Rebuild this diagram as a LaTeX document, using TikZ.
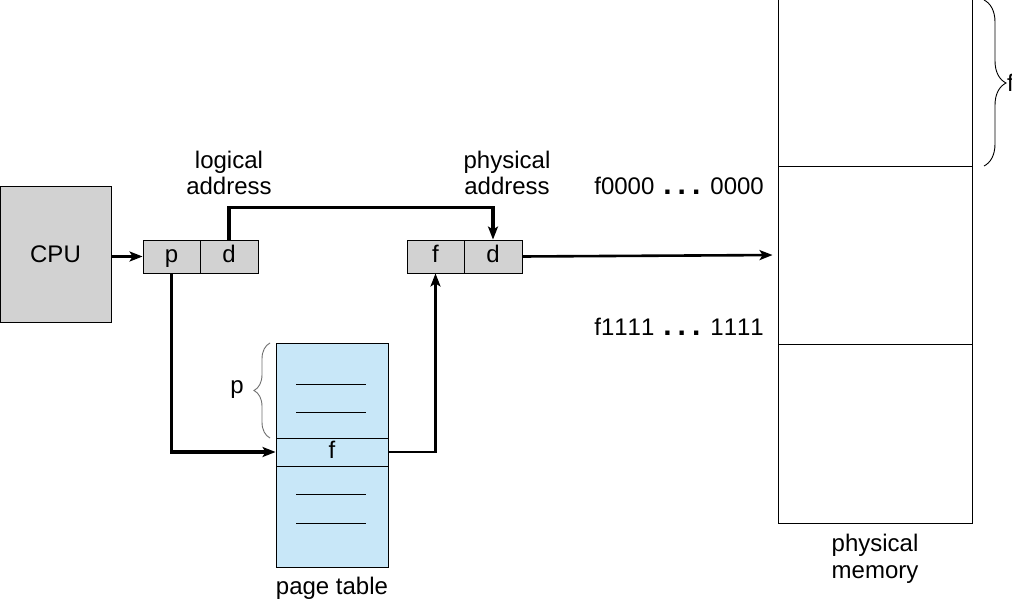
\documentclass[tikz,border=0pt]{standalone}
\usepackage{fontspec}
\setmainfont{Liberation Sans}
\usetikzlibrary{arrows.meta,decorations.pathreplacing}
\definecolor{boxgray}{HTML}{D2D2D2}
\definecolor{ptblue}{HTML}{C8E7F8}
\definecolor{bracegray}{HTML}{707070}
\newcommand{\bigdots}{\hspace{9pt}{\bfseries\fontsize{30}{30}\selectfont .\hspace{6pt}.\hspace{6pt}.}\hspace{10pt}}
\begin{document}
\begin{tikzpicture}[x=1pt,y=-1pt,
  font=\fontsize{24}{26.5}\selectfont,
  box/.style={draw=black, line width=0.9pt, inner sep=0pt, anchor=center},
  graybox/.style={box, fill=boxgray, text height=17pt, text depth=5pt},
  heavy/.style={line width=3.6pt, -{Stealth[length=13pt,width=10pt,inset=3pt]}},
  medium/.style={line width=2.6pt, -{Stealth[length=13pt,width=10pt,inset=3pt]}},
  lbl/.style={align=center, inner sep=0pt},
  bracestyle/.style={decorate, decoration={brace, amplitude=#1}, line width=0.9pt}]
\useasboundingbox (0,0) rectangle (1012,599);
\fill[white] (0,0) rectangle (1012,599);

% CPU
\node[box, fill=boxgray, minimum width=111pt, minimum height=136pt] (cpu) at (55.5,254) {CPU};

% logical address
\node[graybox, minimum width=57pt, minimum height=33pt] (p) at (171.5,256.5) {p};
\node[graybox, minimum width=58pt, minimum height=33pt] (d) at (229,256.5) {d};

% physical address
\node[graybox, minimum width=57pt, minimum height=33pt] (f2) at (435.5,256.5) {f};
\node[graybox, minimum width=58pt, minimum height=33pt] (d2) at (493,256.5) {d};

% labels
\node[lbl] (la) at (229,173) {logical\\address};
\node[lbl] (pa) at (507,173) {physical\\address};

% page table
\node[box, fill=ptblue, minimum width=112pt, minimum height=224pt] (pt) at (332,455) {};
\node[box, fill=ptblue, minimum width=112pt, minimum height=28pt, text height=17pt, text depth=5pt] (pf) at (332,452) {f};
\draw[line width=0.9pt] (296,384) -- (366,384);
\draw[line width=0.9pt] (296,412) -- (366,412);
\draw[line width=0.9pt] (296,494) -- (366,494);
\draw[line width=0.9pt] (296,523) -- (366,523);
\node[lbl] (ptl) at (332,588) {page table};

% brace p
\draw[bracestyle=16pt, draw=bracegray] (270,438) -- (270,343);
\node[lbl] (plbl) at (237,390) {p};

% physical memory
\node[box, minimum width=194pt, minimum height=171pt] (m1) at (875,80.5) {};
\node[box, minimum width=194pt, minimum height=178pt] (m2) at (875,255) {};
\node[box, minimum width=194pt, minimum height=179pt] (m3) at (875,433.5) {};
\node[lbl] (pml) at (875,559) {physical\\memory};

\draw[bracestyle=22pt] (984,0) -- (984,166);
\node[lbl, anchor=west] (flbl) at (1007,83) {f};

\node[lbl, anchor=east] (a0) at (764,186) {f0000\bigdots 0000};
\node[lbl, anchor=east] (a1) at (764,327) {\addfontfeatures{Kerning=Off}f1111\bigdots 1111};

% connectors
\draw[heavy] (cpu.east |- p.west) -- (p.west);
\draw[heavy] (d.north) -- ++(0,-32) -| (d2.north);
\draw[heavy] (p.south) |- (pf.west);
\draw[medium] (pf.east) -| (f2.south);
\draw[medium, shorten >=5pt] (d2.east) -- (m2.west);
\end{tikzpicture}
\end{document}
